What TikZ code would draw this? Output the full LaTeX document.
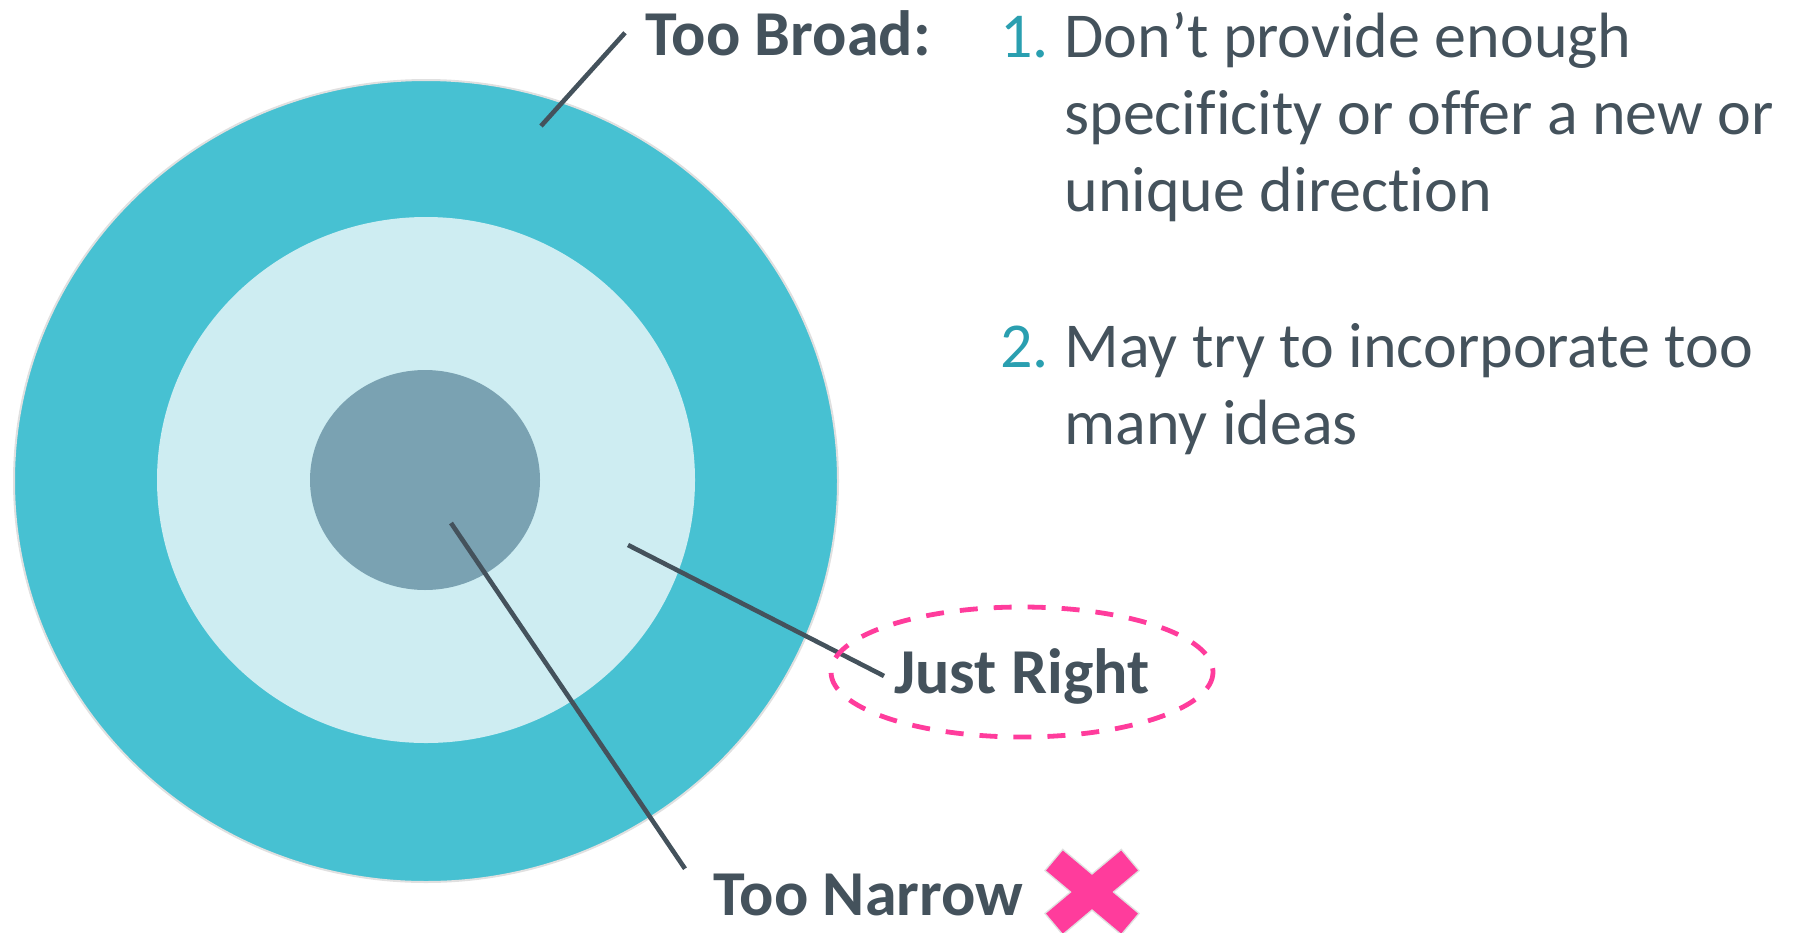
\documentclass[tikz,border=0pt]{standalone}
\usepackage{fontspec}
\setmainfont{Carlito}[Ligatures={NoCommon,NoContextual}, Contextuals=NoAlternate]
\definecolor{slate}{HTML}{44525C}
\definecolor{ringout}{HTML}{47C1D2}
\definecolor{ringmid}{HTML}{CEEDF2}
\definecolor{bullseye}{HTML}{7AA2B2}
\definecolor{numteal}{HTML}{2A9FB0}
\definecolor{hotpink}{HTML}{FF3C9C}
\begin{document}
\begin{tikzpicture}[x=0.5pt, y=-0.5pt,
		lbl/.style = {text=slate, font=\bfseries\fontsize{32}{38.5}\selectfont, inner sep=5pt, anchor=base west},
		item/.style = {text=slate, font=\fontsize{32}{38.5}\selectfont, align=left, inner sep=0pt, anchor=base west},
		num/.style = {text=numteal, font=\fontsize{32}{38.5}\selectfont, inner sep=0pt, anchor=base west},
		pointer/.style = {draw=slate, line width=2.3pt},
	]
	\path[use as bounding box] (0,0) rectangle (1798,932);
	\filldraw[ringout, draw=black!12, line width=1pt] (426,481) ellipse [x radius=412, y radius=401];
	\fill[ringmid] (426,480) ellipse [x radius=269, y radius=263];
	\fill[bullseye] (425,480) ellipse [x radius=115, y radius=110];
	\coordinate (broadtip) at (541,126);
	\coordinate (righttip) at (628,545);
	\coordinate (narrowtip) at (451,523);
	\node[lbl, inner sep=10pt] (broad) at (625,55) {Too Broad:};
	\node[lbl] (justright) at (884,693) {Just Right};
	\node[lbl, inner sep=14pt] (narrow) at (685,915) {Too Narrow};
	\draw[pointer] (broadtip) -- (broad.west);
	\draw[pointer] (righttip) -- (justright.west);
	\draw[pointer] (narrowtip) -- (narrow.172);
	\draw[hotpink, line width=2.4pt, dash pattern=on 9pt off 8pt] (1022,672) ellipse [x radius=191, y radius=65];
	% multi-line nodes sit on the baseline of their last line
	\node[num] (one) at (1000,57) {1.};
	\node[item] (first) at (1064,211) {Don’t provide enough\\specificity or offer a new or\\unique direc\kern0pt tion};
	\node[num] (two) at (1000,367) {2.};
	\node[item] (second) at (1064,444) {May try to incorporate too\\many ideas};
	\begin{scope}[shift={(1092,892)}]
		\foreach \a in {40,-40}
			\draw[black!12, line width=1.5pt, rotate=\a] (-49,-13) rectangle (49,13);
		\foreach \a in {40,-40}
			\fill[hotpink, rotate=\a] (-49,-13) rectangle (49,13);
	\end{scope}
\end{tikzpicture}
\end{document}
